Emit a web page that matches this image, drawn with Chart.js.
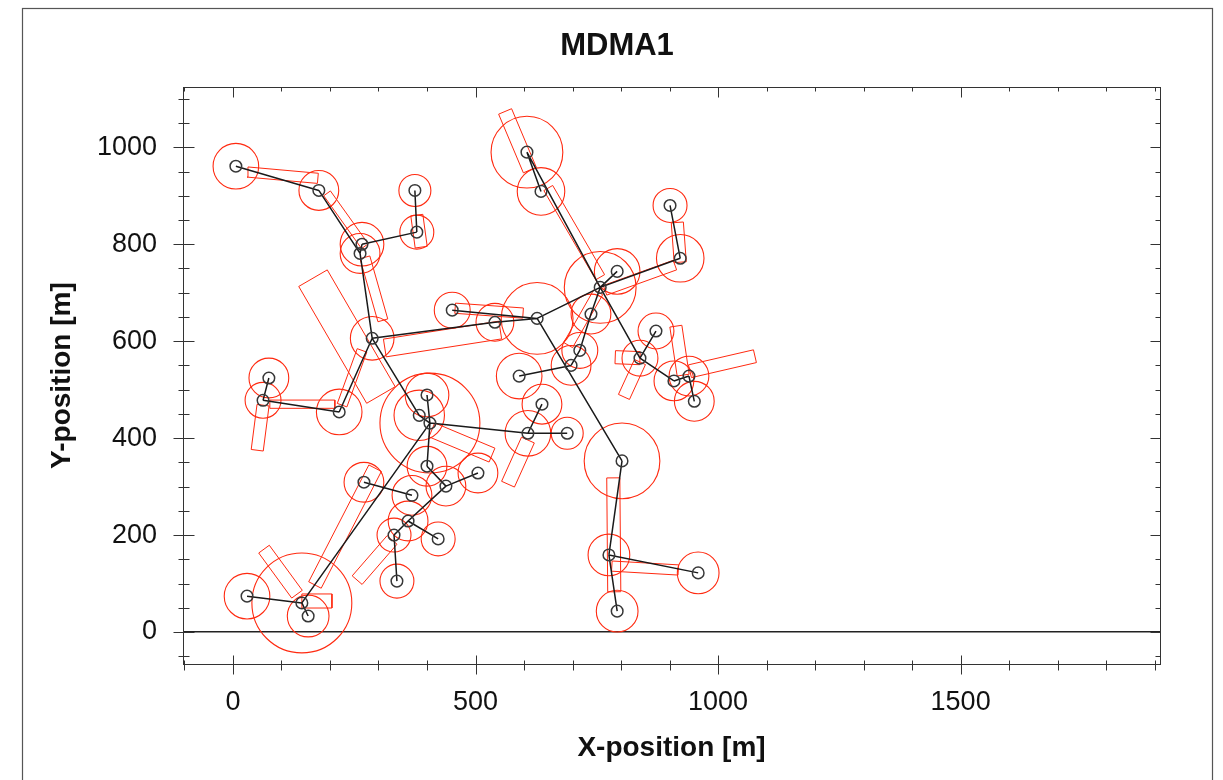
<!DOCTYPE html>
<html>
<head>
<meta charset="utf-8">
<script src="https://cdn.jsdelivr.net/npm/chart.js@4.4.1/dist/chart.umd.min.js"></script>
<style>
  html, body { margin: 0; padding: 0; background: #ffffff; }
  #c { display: block; }
</style>
</head>
<body>
<canvas id="c" width="1223" height="780"></canvas>
<script>
// ---------- data ----------
const nodeX = [6, 177, 266, 262, 375, 379, 606, 635, 901, 922,
               757, 792, 452, 540, 627, 738, 715, 697, 590, 637,
               608, 689, 872, 839, 909, 940, 951, 287, 74, 62,
               219, 400, 384, 406, 400, 505, 439, 369, 270, 361,
               332, 423, 338, 29, 142, 155, 802, 775, 959, 792];
const nodeY = [961, 911, 800, 781, 911, 825, 990, 909, 880, 771,
               711, 744, 664, 639, 647, 656, 581, 550, 528, 470,
               410, 410, 621, 565, 518, 528, 476, 606, 524, 478,
               454, 489, 447, 431, 342, 328, 301, 282, 309, 229,
               200, 192, 105, 74, 60, 33, 353, 159, 122, 43];
const nodeR = [47, 41, 45, 41, 33, 35, 74, 49, 35, 49,
               74, 47, 37, 39, 74, 41, 37, 41, 47, 41,
               47, 33, 37, 37, 41, 41, 41, 45, 41, 37,
               47, 45, 52, 103, 41, 41, 41, 41, 41, 41,
               35, 35, 35, 47, 103, 43, 78, 43, 43, 43];
const edgeFrom = [1, 2, 3, 4, 6, 5, 28, 31, 30, 28, 33, 32, 28, 14, 13, 15, 7, 7, 11, 10,
                  11, 11, 16, 17, 18, 15, 47, 48, 48, 11, 24, 24, 25, 26, 34, 21, 21, 34, 35, 37,
                  37, 40, 41, 40, 39, 45, 45, 45];
const edgeTo   = [2, 4, 4, 28, 3, 6, 31, 30, 29, 33, 34, 34, 14, 15, 15, 11, 8, 11, 10, 9,
                  12, 16, 17, 18, 19, 47, 48, 49, 50, 24, 23, 25, 26, 27, 21, 20, 22, 35, 37, 36,
                  40, 41, 43, 42, 38, 44, 46, 34];
const rectX1 = [30, 194, 272, 165, 313, 62, 76, 225, 132, 142, 169, 328, 784, 781, 839, 839, 928, 942, 922, 612, 757, 767, 608, 410, 388, 753, 458];
const rectY1 = [949, 905, 773, 730, 586, 468, 470, 468, 78, 64, 97, 190, 318, 136, 565, 557, 530, 538, 763, 953, 732, 705, 396, 417, 794, 701, 668];
const rectX2 = [175, 272, 309, 305, 551, 50, 210, 266, 64, 204, 293, 256, 786, 918, 788, 806, 913, 1076, 916, 561, 650, 911, 567, 534, 379, 691, 598];
const rectY2 = [936, 796, 643, 489, 623, 375, 470, 581, 171, 64, 338, 107, 83, 128, 567, 485, 631, 569, 845, 1074, 916, 757, 305, 365, 860, 592, 658];
const rectW  = [21, 17, 21, 68, 37, 25, 17, 21, 27, 29, 29, 27, 27, 21, 27, 25, 25, 27, 25, 29, 21, 21, 29, 31, 25, 21, 21];
const xTickValues = [0, 500, 1000, 1500];
const yTickValues = [0, 200, 400, 600, 800, 1000];

// ---------- derived datasets ----------
const nodePoints = nodeX.map((x, i) => ({ x: x, y: nodeY[i] }));
const edgePoints = [];
edgeFrom.forEach((f, i) => {
  const a = f - 1, b = edgeTo[i] - 1;
  edgePoints.push({ x: nodeX[a], y: nodeY[a] }, { x: nodeX[b], y: nodeY[b] }, { x: null, y: null });
});
const rectPoints = [];
rectX1.forEach((x1, i) => {
  const y1 = rectY1[i], x2 = rectX2[i], y2 = rectY2[i], w = rectW[i];
  const dx = x2 - x1, dy = y2 - y1, len = Math.hypot(dx, dy) || 1;
  const nx = -dy / len * w / 2, ny = dx / len * w / 2;
  rectPoints.push(
    { x: x1 + nx, y: y1 + ny }, { x: x2 + nx, y: y2 + ny },
    { x: x2 - nx, y: y2 - ny }, { x: x1 - nx, y: y1 - ny },
    { x: x1 + nx, y: y1 + ny }, { x: null, y: null });
});

const FONT = "'Liberation Sans', Arial, Helvetica, sans-serif";
const RED = '#ff2a10';

const outerBorder = {
  id: 'outerBorder',
  beforeDraw(chart) {
    const ctx = chart.ctx;
    ctx.save();
    ctx.fillStyle = '#ffffff';
    ctx.fillRect(0, 0, chart.width, chart.height);
    ctx.strokeStyle = '#555555';
    ctx.lineWidth = 1.2;
    ctx.strokeRect(22.5, 8.5, 1190, 800);
    ctx.restore();
  }
};

const frame = {
  id: 'frame',
  afterDraw(chart) {
    const { ctx, chartArea: a, scales: { x, y } } = chart;
    ctx.save();
    ctx.strokeStyle = '#333333';
    ctx.lineWidth = 1;
    const L = Math.round(a.left) + 0.5, R = Math.round(a.right) + 0.5;
    const T = Math.round(a.top) + 0.5, B = Math.round(a.bottom) + 0.5;
    ctx.strokeRect(L, T, R - L, B - T);
    ctx.beginPath();
    for (let v = -100; v <= 1900; v += 100) {
      const px = Math.round(x.getPixelForValue(v)) + 0.5;
      if (px < L - 0.1 || px > R + 0.1) continue;
      const major = v % 500 === 0;
      ctx.moveTo(px, B - (major ? 9 : 4)); ctx.lineTo(px, B + (major ? 10 : 6));
      ctx.moveTo(px, T); ctx.lineTo(px, T + (major ? 10 : 4));
    }
    for (let v = -50; v <= 1100; v += 50) {
      const py = Math.round(y.getPixelForValue(v)) + 0.5;
      if (py < T - 0.1 || py > B + 0.1) continue;
      const major = v % 200 === 0;
      ctx.moveTo(L - (major ? 10 : 5), py); ctx.lineTo(L + (major ? 11 : 6), py);
      ctx.moveTo(R, py); ctx.lineTo(R - (major ? 10 : 5), py);
    }
    ctx.stroke();
    ctx.restore();
  }
};

new Chart(document.getElementById('c'), {
  type: 'scatter',
  data: {
    datasets: [
      {
        label: 'nodes', data: nodePoints, showLine: false, order: 0,
        pointRadius: 5.8, pointBorderColor: '#383838', pointBackgroundColor: 'rgba(0,0,0,0)',
        pointBorderWidth: 1.5, pointHoverRadius: 5.8
      },
      {
        label: 'links', data: edgePoints, showLine: true, spanGaps: false, order: 1,
        borderColor: '#1a1a1a', borderWidth: 1.5, pointRadius: 0, pointHoverRadius: 0
      },
      {
        label: 'bars', data: rectPoints, showLine: true, spanGaps: false, order: 2,
        borderColor: RED, borderWidth: 1, pointRadius: 0, pointHoverRadius: 0
      },
      {
        label: 'ranges', data: nodePoints, showLine: false, order: 3,
        pointRadius: (ctx) => {
          const s = ctx.chart.scales.x;
          const r = nodeR[ctx.dataIndex] || 0;
          return Math.abs(s.getPixelForValue(r) - s.getPixelForValue(0));
        },
        pointBorderColor: RED, pointBackgroundColor: 'rgba(0,0,0,0)', pointBorderWidth: 1.1
      }
    ]
  },
  options: {
    responsive: false,
    animation: false,
    devicePixelRatio: 1,
    events: [],
    layout: { padding: { left: 22, right: 11, top: 0, bottom: 0 } },
    plugins: {
      legend: { display: false },
      tooltip: { enabled: false },
      title: {
        display: true, text: 'MDMA1', color: '#111111',
        font: { family: FONT, size: 31, weight: 'bold' },
        padding: { top: 28, bottom: 22 }
      }
    },
    scales: {
      x: {
        type: 'linear', position: 'bottom', min: -103, max: 1911,
        afterBuildTicks: (s) => { s.ticks = xTickValues.map(v => ({ value: v })); },
        afterFit: (s) => { s.height = 116; },
        grid: { display: false, drawTicks: false },
        border: { display: false },
        ticks: { color: '#111111', font: { family: FONT, size: 27 }, padding: 22, maxRotation: 0, autoSkip: false,
                 callback: (v) => String(v) },
        title: { display: true, text: 'X-position [m]', color: '#111111',
                 font: { family: FONT, size: 28, weight: 'bold' }, padding: { top: 0, bottom: 15 } }
      },
      y: {
        type: 'linear', position: 'left', min: -66, max: 1124,
        afterBuildTicks: (s) => { s.ticks = yTickValues.map(v => ({ value: v })); },
        afterFit: (s) => { s.width = 161; },
        grid: {
          display: true, drawTicks: false, lineWidth: 1.5,
          color: (c) => (c.tick && c.tick.value === 0 ? '#222222' : 'rgba(0,0,0,0)')
        },
        border: { display: false },
        ticks: { color: '#111111', font: { family: FONT, size: 27 }, padding: 26, autoSkip: false,
                 callback: (v) => String(v) },
        title: { display: true, text: 'Y-position [m]', color: '#111111',
                 font: { family: FONT, size: 28, weight: 'bold' }, padding: { top: 23, bottom: 0 } }
      },
      y2: {
        type: 'linear', position: 'right', min: -66, max: 1124,
        afterFit: (s) => { s.width = 52; },
        grid: { display: false, drawTicks: false },
        border: { display: false },
        ticks: { display: false }
      }
    }
  },
  plugins: [outerBorder, frame]
});
</script>
</body>
</html>
